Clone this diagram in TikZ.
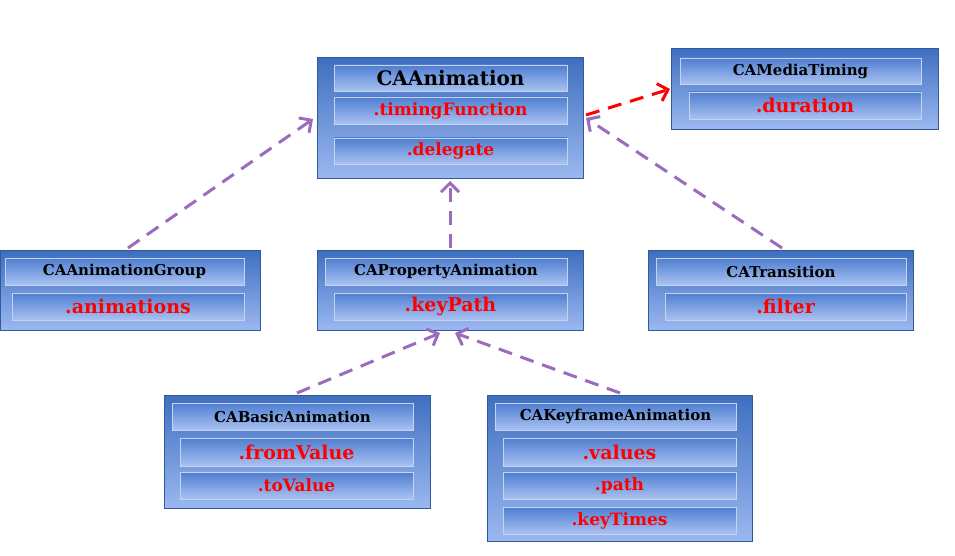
\documentclass[tikz,border=0pt]{standalone}
\usepackage{fontspec}
\setmainfont{DejaVu Serif}
\usetikzlibrary{arrows.meta}
\definecolor{boxtop}{HTML}{3E6FC0}
\definecolor{boxbot}{HTML}{9BB8F0}
\definecolor{bartop}{HTML}{4F7ED0}
\definecolor{barbot}{HTML}{A9C2F2}
\definecolor{arr}{HTML}{9B6BBE}
\definecolor{lbl}{HTML}{FF0000}
\tikzset{
  box/.style={draw=boxtop!80!black,line width=0.8pt,top color=boxtop,bottom color=boxbot},
  bar/.style={draw=white!70!boxtop,line width=0.8pt,top color=bartop,bottom color=barbot},
  conn/.style={draw=arr,line width=3pt,dash pattern=on 14pt off 9pt,-{Straight Barb[length=9pt,width=18pt,line width=3pt]}},
  rconn/.style={conn,draw=red},
  ttl/.style={font=\bfseries\fontsize{15}{15}\selectfont,text=black},
  bigttl/.style={font=\bfseries\fontsize{20}{20}\selectfont,text=black},
  fld/.style={font=\bfseries\fontsize{19}{19}\selectfont,text=lbl},
  sfld/.style={font=\bfseries\fontsize{17}{17}\selectfont,text=lbl},
}
\newcommand{\cbar}[6]{% x1 y1 x2 y2 style text
  \path[bar] (#1,#2) rectangle (#3,#4);
  \node[#5] at ({(#1+#3)/2},{(#2+#4)/2}) {#6};}
\begin{document}
\begin{tikzpicture}[x=1pt,y=-1pt]
\useasboundingbox (0,0) rectangle (955,556);
% CAAnimation
\node[box,minimum width=266pt,minimum height=121pt,anchor=north west,inner sep=0] (anim) at (317,57) {};
\cbar{334}{65}{567}{91}{bigttl}{CAAnimation}
\cbar{334}{97}{567}{124}{sfld}{.timingFunction}
\cbar{334}{138}{567}{164}{sfld}{.delegate}
% CAMediaTiming
\node[box,minimum width=267pt,minimum height=81pt,anchor=north west,inner sep=0] (media) at (671,48) {};
\cbar{680}{58}{921}{84}{ttl}{CAMediaTiming}
\cbar{689}{92}{921}{119}{fld}{.duration}
% Group
\node[box,minimum width=260pt,minimum height=80pt,anchor=north west,inner sep=0] (group) at (0,250) {};
\cbar{5}{258}{244}{285}{ttl}{CAAnimationGroup}
\cbar{12}{293}{244}{320}{fld}{.animations}
% Property
\node[box,minimum width=266pt,minimum height=80pt,anchor=north west,inner sep=0] (prop) at (317,250) {};
\cbar{325}{258}{567}{285}{ttl}{CAPropertyAnimation}
\cbar{334}{293}{567}{320}{fld}{.keyPath}
% Transition
\node[box,minimum width=265pt,minimum height=80pt,anchor=north west,inner sep=0] (trans) at (648,250) {};
\cbar{656}{258}{906}{285}{ttl}{CATransition}
\cbar{665}{293}{906}{320}{fld}{.filter}
% Basic
\node[box,minimum width=266pt,minimum height=113pt,anchor=north west,inner sep=0] (basic) at (164,395) {};
\cbar{172}{403}{413}{430}{ttl}{CABasicAnimation}
\cbar{180}{438}{413}{466}{fld}{.fromValue}
\cbar{180}{472}{413}{499}{sfld}{.toValue}
% Keyframe
\node[box,minimum width=265pt,minimum height=146pt,anchor=north west,inner sep=0] (key) at (487,395) {};
\cbar{495}{403}{736}{430}{ttl}{CAKeyframeAnimation}
\cbar{503}{438}{736}{466}{fld}{.values}
\cbar{503}{472}{736}{499}{sfld}{.path}
\cbar{503}{507}{736}{534}{sfld}{.keyTimes}
% connectors
\coordinate (g0) at (128,248); \coordinate (g1) at (313,119);
\coordinate (p0) at (450,248); \coordinate (p1) at (450,181);
\coordinate (t0) at (782,248); \coordinate (t1) at (586,118);
\coordinate (r0) at (586,115); \coordinate (r1) at (670,89);
\coordinate (b0) at (297,393); \coordinate (b1) at (440,333);
\coordinate (k0) at (620,393); \coordinate (k1) at (455,333);
\draw[conn] (g0) -- (g1);
\draw[conn] (p0) -- (p1);
\draw[conn] (t0) -- (t1);
\draw[rconn] (r0) -- (r1);
\draw[conn] (b0) -- (b1);
\draw[conn] (k0) -- (k1);
\end{tikzpicture}
\end{document}
